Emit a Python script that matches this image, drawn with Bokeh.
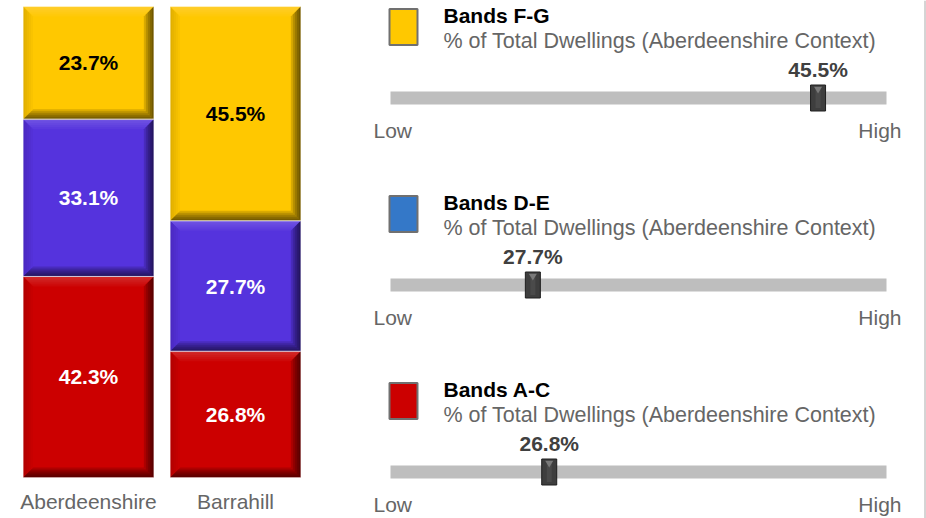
from bokeh.plotting import figure
from bokeh.layouts import row
from bokeh.models import Range1d, Span
from bokeh.core.properties import value
from bokeh.embed import file_html
from bokeh.resources import INLINE

# ---------------- data ----------------
areas = ["Aberdeenshire", "Barrahill"]
bands = ["Bands A-C", "Bands D-E", "Bands F-G"]          # stack order, bottom to top
aberdeenshire_pct = [42.3, 33.1, 23.7]
barrahill_pct = [26.8, 27.7, 45.5]
bar_colors = ["#CC0000", "#5533DD", "#FFC800"]
bar_label_colors = ["white", "white", "black"]
legend_colors = ["#CC0000", "#3478C8", "#FFC800"]
# Barrahill position within the Aberdeenshire context range (0 = Low, 1 = High)
context_position = [0.320, 0.287, 0.862]
slider_subtitle = "% of Total Dwellings (Aberdeenshire Context)"
low_label, high_label = "Low", "High"

FONT = value("Liberation Sans")
FS = "21px"

# ---------------- left: 100% stacked bars ----------------
H = 518
WL = 353
PXX = 147.0          # px per category
PXY = 4.71           # px per percent
TOP = 6.0            # px above the 100% line
BASE = 477.0         # px of the 0% line
CX0 = 88.0           # px of first category centre
left = figure(width=WL, height=H, output_backend="svg", toolbar_location=None,
              x_range=Range1d(-CX0 / PXX, (WL - CX0) / PXX),
              y_range=Range1d(-(H - BASE) / PXY, 100 + TOP / PXY), min_border=0)
left.axis.visible = False
left.grid.visible = False
left.outline_line_color = None
left.background_fill_color = None

bar_w = 0.889
bx, by = 10 / PXX, 10 / PXY
series = [aberdeenshire_pct, barrahill_pct]

x0s, x1s, y0s, y1s, cols, labs, tcols, xcs, ycs = [], [], [], [], [], [], [], [], []
for ai, vals in enumerate(series):
    total = sum(vals)
    cum = 0.0
    for bi, v in enumerate(vals):
        y0 = cum / total * 100
        y1 = (cum + v) / total * 100
        cum += v
        x0s.append(ai - bar_w / 2); x1s.append(ai + bar_w / 2)
        y0s.append(y0); y1s.append(y1)
        cols.append(bar_colors[bi]); labs.append(f"{v}%")
        tcols.append(bar_label_colors[bi])
        xcs.append(ai); ycs.append((y0 + y1) / 2)

left.quad(left=x0s, right=x1s, bottom=y0s, top=y1s, fill_color=cols, line_color=None)

def trap(x0, x1, y0, y1, edge, tx, ty):
    if edge == "top":
        return [x0, x1, x1 - tx, x0 + tx], [y1, y1, y1 - ty, y1 - ty]
    if edge == "bottom":
        return [x0, x1, x1 - tx, x0 + tx], [y0, y0, y0 + ty, y0 + ty]
    if edge == "left":
        return [x0, x0, x0 + tx, x0 + tx], [y0, y1, y1 - ty, y0 + ty]
    return [x1, x1, x1 - tx, x1 - tx], [y0, y1, y1 - ty, y0 + ty]

NL = 5
edges = [("top", "white", 0.035), ("left", "black", 0.025),
         ("right", "black", 0.15), ("bottom", "black", 0.14)]
for edge, c, a in edges:
    xs, ys = [], []
    for k in range(NL):
        f = (k + 1) / NL
        for x0, x1, y0, y1 in zip(x0s, x1s, y0s, y1s):
            px, py = trap(x0, x1, y0, y1, edge, bx * f, by * f)
            xs.append(px); ys.append(py)
    left.patches(xs, ys, fill_color=c, fill_alpha=a, line_color=None)

left.quad(left=x0s, right=x1s, bottom=y0s, top=y1s, fill_color=None,
          line_color="white", line_alpha=0.45, line_width=1)

left.text(x=xcs, y=ycs, text=labs, text_color=tcols, text_font=FONT,
          text_font_size=FS, text_font_style="bold", text_align="center",
          text_baseline="middle")
left.text(x=list(range(len(areas))), y=[-24.0 / PXY] * len(areas), text=areas,
          text_color="#666666", text_font=FONT, text_font_size=FS,
          text_align="center", text_baseline="middle")

# ---------------- right: context sliders ----------------
WR = 926 - WL
PPX = 496.0
OX = 390.0 - WL      # px from panel edge to track start
PPY = 187.0
R0 = 97.5
right = figure(width=WR, height=H, output_backend="svg", toolbar_location=None,
               x_range=Range1d(-OX / PPX, (WR - OX) / PPX),
               y_range=Range1d((H - R0) / PPY, -R0 / PPY), min_border=0)
right.axis.visible = False
right.grid.visible = False
right.outline_line_color = None
right.background_fill_color = None

order = list(reversed(range(len(bands))))       # F-G first (top)
rows = list(range(len(order)))
pos = [context_position[i] for i in order]
names = [bands[i] for i in order]
lcols = [legend_colors[i] for i in order]
vals = [f"{barrahill_pct[i]}%" for i in order]

def ry(off):
    return [r + off / PPY for r in rows]

def rx(px):
    return (px - 390.0) / PPX

right.rect(x=0.5, y=rows, width=1.0, height=13, height_units="screen",
           fill_color="#BEBEBE", line_color=None)
right.rect(x=pos, y=rows, width=15, height=26, width_units="screen",
           height_units="screen", fill_color="#3E3E3E", line_color="#1E1E1E",
           line_width=1)
right.rect(x=pos, y=rows, width=5, height=20, width_units="screen",
           height_units="screen", fill_color="#4A4A4A", line_color=None)
right.scatter(x=pos, y=ry(-9), marker="inverted_triangle", size=8,
              fill_color="#7A7A7A", line_color=None)
right.text(x=pos, y=ry(-29), text=vals, text_color="#404040", text_font=FONT,
           text_font_size=FS, text_font_style="bold", text_align="center",
           text_baseline="middle")
right.rect(x=rx(403), y=ry(-71), width=28, height=36,
           width_units="screen", height_units="screen", fill_color=lcols,
           line_color="#707070", line_width=2)
right.text(x=rx(443), y=ry(-82.5), text=names, text_color="black", text_font=FONT,
           text_font_size=FS, text_font_style="bold", text_align="left",
           text_baseline="middle")
right.text(x=rx(443), y=ry(-57.5), text=[slider_subtitle] * len(rows),
           text_color="#666666", text_font=FONT, text_font_size="21.5px",
           text_align="left", text_baseline="middle")
right.text(x=rx(373), y=ry(32.5), text=[low_label] * len(rows),
           text_color="#666666", text_font=FONT, text_font_size=FS,
           text_align="left", text_baseline="middle")
right.text(x=rx(901), y=ry(32.5), text=[high_label] * len(rows),
           text_color="#666666", text_font=FONT, text_font_size=FS,
           text_align="right", text_baseline="middle")
right.add_layout(Span(location=rx(924.5), dimension="height",
                      line_color="#AAAAAA", line_width=1))

layout = row(left, right, spacing=0)
open("out.html", "w").write(file_html(layout, INLINE))
